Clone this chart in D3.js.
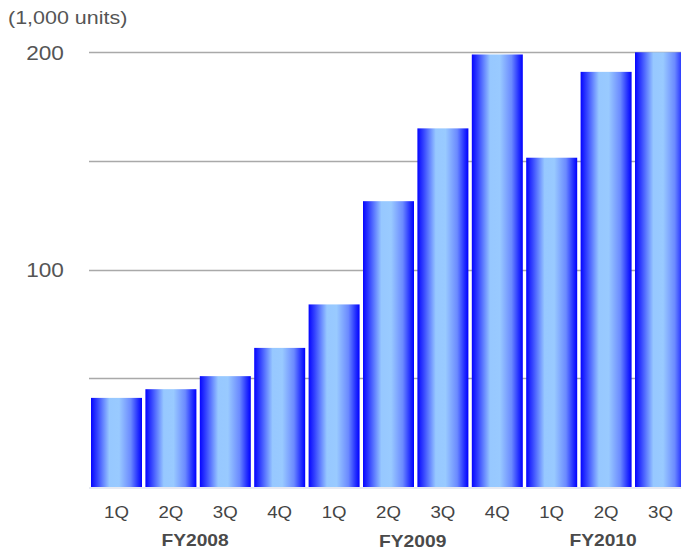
<!DOCTYPE html>
<html>
<head>
<meta charset="utf-8">
<script src="https://cdn.jsdelivr.net/npm/d3@7/dist/d3.min.js"></script>
<style>
  html, body { margin: 0; padding: 0; background: #fff; overflow: hidden; }
  svg { display: block; font-family: "Liberation Sans", Arial, sans-serif; }
</style>
</head>
<body>
<svg id="chart" width="681" height="551"></svg>
<script>
// Quarterly unit shipments (thousands)
const quarters = ["1Q", "2Q", "3Q", "4Q", "1Q", "2Q", "3Q", "4Q", "1Q", "2Q", "3Q"];
const fiscalYears = ["FY2008", "FY2008", "FY2008", "FY2008",
                     "FY2009", "FY2009", "FY2009", "FY2009",
                     "FY2010", "FY2010", "FY2010"];
const units = [41, 45, 51, 64, 84, 131.5, 165, 199, 151.5, 191, 200];
const gridValues = [50, 100, 150, 200];
const tickLabels = [100, 200];
const unitLabel = "(1,000 units)";

const svg = d3.select("#chart");
const idx = d3.range(units.length);

const x = d3.scaleBand()
  .domain(idx)
  .range([89.3, 687.7])
  .paddingInner(0.0625)
  .paddingOuter(0.03125);

const y = d3.scaleLinear().domain([0, 200]).range([487, 52.3]);

// Horizontal gradient used for every bar: deep blue edges, pale centre
const defs = svg.append("defs");
const grad = defs.append("linearGradient")
  .attr("id", "barFill")
  .attr("x1", "0%").attr("x2", "100%").attr("y1", "0%").attr("y2", "0%");
[
  [0.00, "#0505ff"],
  [0.12, "#3443ff"],
  [0.36, "#97c8ff"],
  [0.55, "#99caff"],
  [0.78, "#6b8aff"],
  [0.92, "#2430ff"],
  [1.00, "#0000ff"]
].forEach(([o, c]) => grad.append("stop").attr("offset", o).attr("stop-color", c));

// Gridlines
svg.append("g")
  .selectAll("line")
  .data(gridValues)
  .join("line")
  .attr("x1", 89).attr("x2", 681)
  .attr("y1", d => Math.round(y(d)) + 0.5)
  .attr("y2", d => Math.round(y(d)) + 0.5)
  .attr("stroke", "#a9a9a9")
  .attr("stroke-width", 1.4);

// Baseline
svg.append("line")
  .attr("x1", 89).attr("x2", 681)
  .attr("y1", y(0) + 1).attr("y2", y(0) + 1)
  .attr("stroke", "#dfe3ee")
  .attr("stroke-width", 1.5);

// Bars
svg.append("g")
  .selectAll("rect")
  .data(idx)
  .join("rect")
  .attr("x", i => x(i))
  .attr("width", x.bandwidth())
  .attr("y", i => y(units[i]))
  .attr("height", i => y(0) - y(units[i]))
  .attr("fill", "url(#barFill)");

const labels = svg.append("g").attr("class", "labels");

// Y tick labels
labels.selectAll("text.ytick")
  .data(tickLabels)
  .join("text")
  .attr("class", "ytick")
  .attr("x", 45)
  .attr("y", d => y(d) + 7.5)
  .attr("text-anchor", "middle")
  .attr("font-size", 20)
  .attr("fill", "#555")
  .text(d => d);

// Unit caption
labels.append("text")
  .attr("class", "unit")
  .attr("x", 8)
  .attr("y", 24)
  .attr("font-size", 19)
  .attr("fill", "#555")
  .text(unitLabel);

// Quarter labels
labels.selectAll("text.q")
  .data(idx)
  .join("text")
  .attr("class", "q")
  .attr("x", i => x(i) + x.bandwidth() / 2)
  .attr("y", 518)
  .attr("text-anchor", "middle")
  .attr("font-size", 16.5)
  .attr("fill", "#444")
  .text(i => quarters[i]);

// Fiscal-year labels centred under their quarters
const groups = d3.groups(idx, i => fiscalYears[i]);
const fyDy = { "FY2008": 0, "FY2009": 1, "FY2010": 0 };
labels.selectAll("text.fy")
  .data(groups)
  .join("text")
  .attr("class", "fy")
  .attr("x", ([, members]) => d3.mean(members, i => x(i) + x.bandwidth() / 2) - 3)
  .attr("y", ([fy]) => 546 + fyDy[fy])
  .attr("text-anchor", "middle")
  .attr("font-size", 17)
  .attr("font-weight", "bold")
  .attr("fill", "#4a4a4a")
  .text(([fy]) => fy);

// Slightly widened lettering
labels.selectAll("text").each(function () {
  const len = this.getComputedTextLength();
  d3.select(this)
    .attr("textLength", len * 1.13)
    .attr("lengthAdjust", "spacingAndGlyphs");
});
</script>
</body>
</html>
